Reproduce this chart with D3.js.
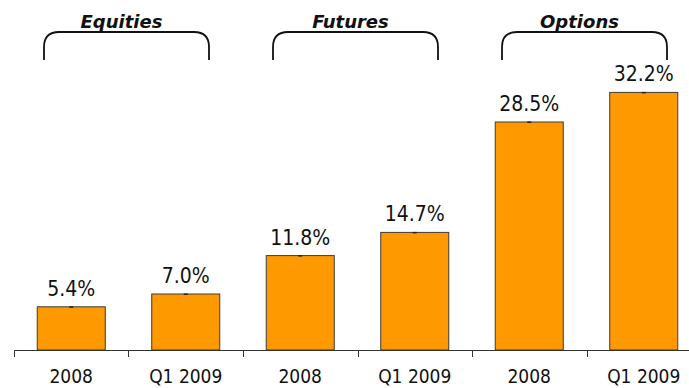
<!DOCTYPE html>
<html>
<head>
<meta charset="utf-8">
<script src="https://cdn.jsdelivr.net/npm/d3@7/dist/d3.min.js"></script>
<style>
  html, body { margin: 0; padding: 0; background: #fff; }
  svg { display: block; }
</style>
</head>
<body>
<svg id="chart" width="689" height="388"></svg>
<script>
// ---- data ----
const periods = ["2008", "Q1 2009", "2008", "Q1 2009", "2008", "Q1 2009"];
const values = [5.4, 7.0, 11.8, 14.7, 28.5, 32.2];
const groups = ["Equities", "Futures", "Options"];
const groupIndex = [0, 0, 1, 1, 2, 2];

// ---- layout ----
const W = 689, H = 388;
const axisY = 350;
const svg = d3.select("#chart");

const x = d3.scaleBand()
  .domain(d3.range(periods.length))
  .range([14, 701])
  .paddingInner(0.406)
  .paddingOuter(0.203);

const y = d3.scaleLinear().domain([0, 40]).range([axisY, 30]);

const fontMain = "'DejaVu Sans Condensed', 'DejaVu Sans', Verdana, sans-serif";

// bars
svg.append("g").selectAll("rect")
  .data(values)
  .join("rect")
  .attr("x", (d, i) => x(i))
  .attr("y", d => y(d))
  .attr("width", x.bandwidth())
  .attr("height", d => axisY - y(d))
  .attr("fill", "#FF9900")
  .attr("stroke", "#3a3a3a")
  .attr("stroke-width", 1);

// tiny marks at bar tops
svg.append("g").selectAll("rect")
  .data(values)
  .join("rect")
  .attr("x", (d, i) => x(i) + x.bandwidth() / 2 - 2)
  .attr("y", d => y(d) - 0.5)
  .attr("width", 4)
  .attr("height", 1.5)
  .attr("fill", "#222");

// value labels
svg.append("g").selectAll("text")
  .data(values)
  .join("text")
  .attr("x", (d, i) => x(i) + x.bandwidth() / 2)
  .attr("y", d => y(d) - 11)
  .attr("text-anchor", "middle")
  .attr("font-family", fontMain)
  .attr("font-size", 21)
  .attr("fill", "#111")
  .text(d => d.toFixed(1) + "%");

// axis
const step = x.step();
const axisG = svg.append("g");
axisG.append("line")
  .attr("x1", 14).attr("x2", W + 20)
  .attr("y1", axisY + 0.5).attr("y2", axisY + 0.5)
  .attr("stroke", "#333").attr("stroke-width", 1);
axisG.selectAll("line.tick")
  .data(d3.range(periods.length))
  .join("line")
  .attr("class", "tick")
  .attr("x1", i => Math.round(x(i) - x.paddingOuter() * step) + 0.5)
  .attr("x2", i => Math.round(x(i) - x.paddingOuter() * step) + 0.5)
  .attr("y1", axisY)
  .attr("y2", axisY + 7)
  .attr("stroke", "#333").attr("stroke-width", 1);
axisG.selectAll("text")
  .data(periods)
  .join("text")
  .attr("x", (d, i) => x(i) + x.bandwidth() / 2)
  .attr("y", 383)
  .attr("text-anchor", "middle")
  .attr("font-family", fontMain)
  .attr("font-size", 19)
  .attr("fill", "#111")
  .text(d => d);

// group headers with brackets
const groupCenters = groups.map((g, gi) => {
  const idx = d3.range(periods.length).filter(i => groupIndex[i] === gi);
  const left = x(idx[0]);
  const right = x(idx[idx.length - 1]) + x.bandwidth();
  return (left + right) / 2;
});

const hw = 82.5, r = 15, topY = 32, botY = 60;
const hg = svg.append("g");
hg.selectAll("path")
  .data(groupCenters)
  .join("path")
  .attr("d", c => {
    const x1 = c - 2 - hw, x2 = c - 2 + hw;
    return `M${x1},${botY} L${x1},${topY + r} Q${x1},${topY} ${x1 + r},${topY} ` +
           `L${x2 - r},${topY} Q${x2},${topY} ${x2},${topY + r} L${x2},${botY}`;
  })
  .attr("fill", "none")
  .attr("stroke", "#111")
  .attr("stroke-width", 1.8);

hg.selectAll("text")
  .data(groups)
  .join("text")
  .attr("x", (d, i) => groupCenters[i] - 7)
  .attr("y", 28)
  .attr("text-anchor", "middle")
  .attr("font-family", "'DejaVu Sans', Verdana, sans-serif")
  .attr("font-weight", "bold")
  .attr("font-style", "italic")
  .attr("font-size", 18)
  .attr("fill", "#111")
  .text(d => d);
</script>
</body>
</html>
